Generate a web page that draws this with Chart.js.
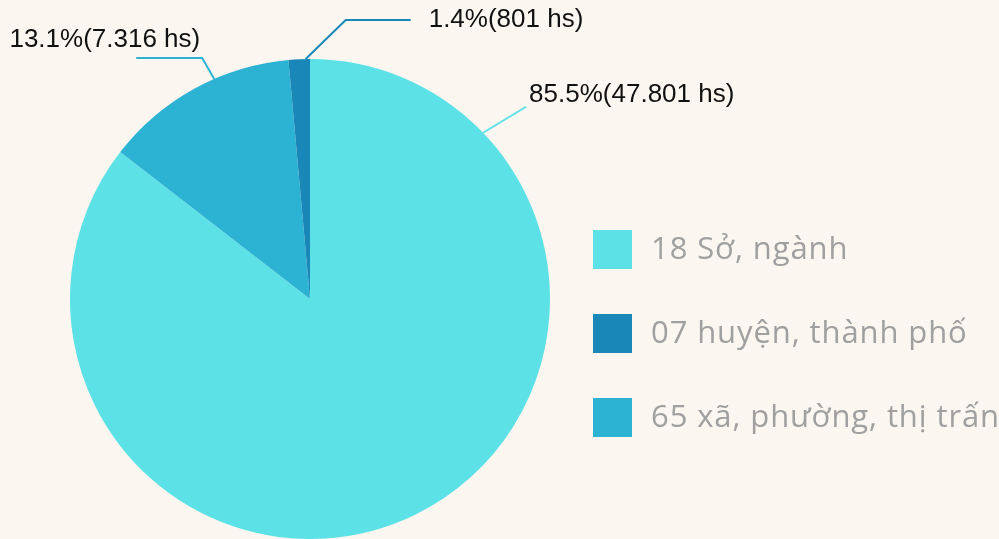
<!DOCTYPE html>
<html>
<head>
<meta charset="utf-8">
<script src="https://cdn.jsdelivr.net/npm/chart.js@4"></script>
<style>
  html, body { margin: 0; padding: 0; background: #fbf6ef; }
  #wrap { width: 999px; height: 539px; }
</style>
</head>
<body>
<div id="wrap"><canvas id="pieChart" width="999" height="539"></canvas></div>
<script>
// data, in drawing order (clockwise from 12 o'clock)
const labels = ['18 Sở, ngành', '65 xã, phường, thị trấn', '07 huyện, thành phố'];
const counts = [47801, 7316, 801];
const legendOrder = [0, 2, 1];

const colors = ['#5ce1e6', '#2cb3d4', '#1a87b9'];

// leader line layout per slice: where on the arc it starts, its bends, and where the text goes
const leaderLayout = [
    { frac: 0.15, path: [[43, -26]], text: [3, -12], align: 'left' },
    { frac: 0.61, path: [[-12, -21], [-66, 0]], text: [64, -18], align: 'right' },
    { frac: 0.8, path: [[40, -39], [65, 0]], text: [18, 0], align: 'left' }
];

function fmtCount(n) {
    return String(n).replace(/\B(?=(\d{3})+(?!\d))/g, '.');
}

const total = counts.reduce((a, b) => a + b, 0);

const leaderLabels = {
    id: 'leaderLabels',
    afterDatasetsDraw(chart) {
        const ctx = chart.ctx;
        const arcs = chart.getDatasetMeta(0).data;
        ctx.save();
        arcs.forEach((arc, i) => {
            const lay = leaderLayout[i];
            const p = arc.getProps(['x', 'y', 'startAngle', 'endAngle', 'outerRadius'], true);
            const a = p.startAngle + lay.frac * (p.endAngle - p.startAngle);
            let x = p.x + Math.cos(a) * p.outerRadius;
            let y = p.y + Math.sin(a) * p.outerRadius;
            ctx.beginPath();
            ctx.moveTo(x, y);
            lay.path.forEach(d => {
                x += d[0];
                y += d[1];
                ctx.lineTo(x, y);
            });
            ctx.strokeStyle = colors[i];
            ctx.lineWidth = 2;
            ctx.stroke();

            const pct = (counts[i] / total * 100).toFixed(1);
            ctx.font = '26px "Liberation Sans", Arial, sans-serif';
            ctx.fillStyle = '#111111';
            ctx.textAlign = lay.align;
            ctx.textBaseline = 'middle';
            ctx.fillText(pct + '%(' + fmtCount(counts[i]) + ' hs)', x + lay.text[0], y + lay.text[1]);
        });
        ctx.restore();
    }
};

const sideLegend = {
    id: 'sideLegend',
    afterDraw(chart) {
        const ctx = chart.ctx;
        ctx.save();
        legendOrder.forEach((idx, row) => {
            const top = 230 + row * 84;
            ctx.fillStyle = colors[idx];
            ctx.fillRect(593, top, 39, 39);
            ctx.font = '31px "Open Sans", sans-serif';
            ctx.letterSpacing = '0.9px';
            ctx.fillStyle = '#a0a0a0';
            ctx.textAlign = 'left';
            ctx.textBaseline = 'alphabetic';
            ctx.fillText(labels[idx], 651, top + 29);
        });
        ctx.restore();
    }
};

const ctx = document.getElementById('pieChart').getContext('2d');
new Chart(ctx, {
    type: 'pie',
    data: {
        labels: labels,
        datasets: [{
            data: counts,
            backgroundColor: colors,
            borderWidth: 0
        }]
    },
    options: {
        responsive: false,
        animation: false,
        events: [],
        layout: {
            padding: { left: 70, top: 59, right: 449, bottom: 0 }
        },
        plugins: {
            legend: { display: false },
            tooltip: { enabled: false }
        }
    },
    plugins: [leaderLabels, sideLegend]
});
</script>
</body>
</html>
